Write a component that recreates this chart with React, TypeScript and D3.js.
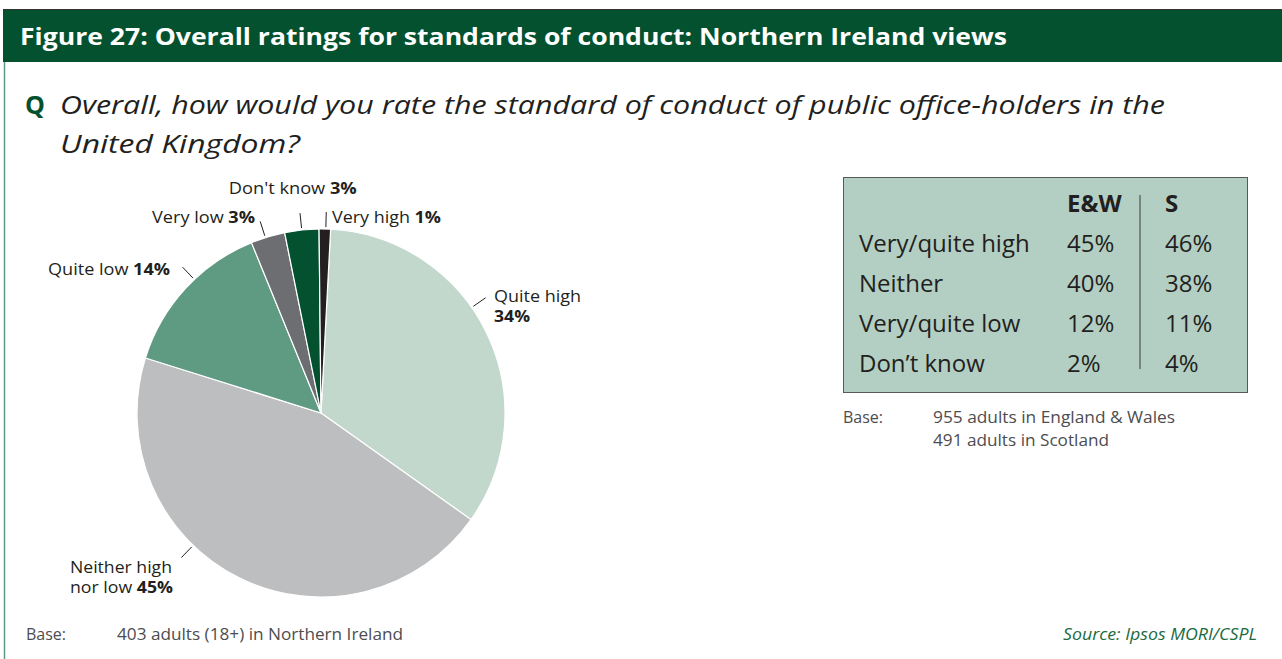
import React from "react";
import * as d3 from "d3";

const categories = ["Quite high", "Neither high nor low", "Quite low", "Very low", "Don't know", "Very high"];
const values = [34, 45, 14, 3, 3, 1];
const sliceColors = ["#C2D8CD", "#BCBEC0", "#5F9A82", "#6D6E71", "#03512F", "#231F20"];

const tableRows = ["Very/quite high", "Neither", "Very/quite low", "Don\u2019t know"];
const tableCols = ["E&W", "S"];
const ewValues = [45, 40, 12, 2];
const sValues = [46, 38, 11, 4];

// label layout: leader angle (deg, clockwise from top), text lines [plain, bold, width], anchor, offsets
const labelLayout = [
  { angle: 55, lines: [["Quite high", "", 87], ["", "34%", 36]], anchor: "start", dx: 8.4, dy: 4 },
  { angle: 224, lines: [["Neither high", "", 102], ["nor low ", "45%", 103]], anchor: "start", dx: -111.4, dy: 15.4 },
  { angle: 316.5, lines: [["Quite low ", "14%", 122]], anchor: "end", dx: -12.6, dy: 7.8 },
  { angle: 342.4, lines: [["Very low ", "3%", 103]], anchor: "end", dx: -5.2, dy: 1.6 },
  { angle: 354, lines: [["Don't know ", "3%", 128]], anchor: "middle", dx: -7.2, dy: -19 },
  { angle: 1.5, lines: [["Very high ", "1%", 109]], anchor: "start", dx: 5.7, dy: 11 },
];

const FONT = "'Open Sans', 'Noto Sans', sans-serif";
const TEXT = "#231F20";
const GREY = "#4D4D4F";

export default function App() {
  const cx = 321, cy = 413, r = 184;
  const offset = (3 * Math.PI) / 180;
  const pie = d3.pie<number>().sort(null).startAngle(offset).endAngle(offset + 2 * Math.PI);
  const arcs = pie(values);
  const arc = d3.arc<d3.PieArcDatum<number>>().innerRadius(0).outerRadius(r);

  const rowY = d3.scalePoint<string>().domain(tableRows).range([252, 372]);

  return (
    <svg width={1282} height={659} style={{ position: "absolute", left: 0, top: 0 }} fontFamily={FONT}>
      <rect x={0} y={0} width={1282} height={659} fill="#fff" />
      {/* header */}
      <rect x={3} y={9} width={1279} height={53} fill="#03512F" />
      <line x1={3} y1={9.5} x2={1282} y2={9.5} stroke="#333" strokeWidth={1} />
      <line x1={4.5} y1={62} x2={4.5} y2={659} stroke="#5F9A82" strokeWidth={1.5} />
      <text x={20} y={45} fill="#fff" fontWeight={700} fontSize={23} textLength={987} lengthAdjust="spacingAndGlyphs">
        Figure 27: Overall ratings for standards of conduct: Northern Ireland views
      </text>
      {/* question */}
      <text x={25} y={114} fill="#03512F" fontWeight={700} fontSize={25}>Q</text>
      <text x={60} y={114} fill={TEXT} fontStyle="italic" fontSize={25} textLength={1105} lengthAdjust="spacingAndGlyphs">
        Overall, how would you rate the standard of conduct of public office-holders in the
      </text>
      <text x={60} y={153} fill={TEXT} fontStyle="italic" fontSize={25} textLength={240} lengthAdjust="spacingAndGlyphs">United Kingdom?</text>

      {/* pie */}
      <g transform={`translate(${cx},${cy})`}>
        {arcs.map((a, i) => (
          <path key={categories[i]} d={arc(a) || ""} fill={sliceColors[i]} stroke="#fff" strokeWidth={1.2} />
        ))}
        {labelLayout.map((l, i) => {
          const t = (l.angle * Math.PI) / 180;
          const x1 = (r + 2) * Math.sin(t), y1 = -(r + 2) * Math.cos(t);
          const x2 = (r + 17) * Math.sin(t), y2 = -(r + 17) * Math.cos(t);
          return (
            <g key={i}>
              <line x1={x1} y1={y1} x2={x2} y2={y2} stroke={TEXT} strokeWidth={1} />
              {l.lines.map((ln, j) => (
                <text key={j} x={x2 + l.dx} y={y2 + l.dy + j * 20} textAnchor={l.anchor} fontSize={16} fill={TEXT}
                  textLength={ln[2] as number} lengthAdjust="spacingAndGlyphs">
                  {ln[0]}
                  {ln[1] && <tspan fontWeight={700}>{ln[1]}</tspan>}
                </text>
              ))}
            </g>
          );
        })}
      </g>

      {/* table */}
      <rect x={843.5} y={177.5} width={404} height={215} fill="#B3CFC3" stroke="#58595B" strokeWidth={1} />
      <line x1={1140} y1={195} x2={1140} y2={369} stroke="#3a3a3a" strokeWidth={1} />
      <text x={1067} y={212} fontSize={24} fontWeight={700} fill={TEXT}>{tableCols[0]}</text>
      <text x={1165} y={212} fontSize={24} fontWeight={700} fill={TEXT}>{tableCols[1]}</text>
      {tableRows.map((row, i) => (
        <g key={row}>
          <text x={859} y={rowY(row)} fontSize={24} fill={TEXT}>{row}</text>
          <text x={1067} y={rowY(row)} fontSize={24} fill={TEXT}>{ewValues[i]}%</text>
          <text x={1165} y={rowY(row)} fontSize={24} fill={TEXT}>{sValues[i]}%</text>
        </g>
      ))}
      <text x={843} y={423} fontSize={16} fill={GREY}>Base:</text>
      <text x={933} y={423} fontSize={16} fill={GREY} textLength={242} lengthAdjust="spacingAndGlyphs">955 adults in England &amp; Wales</text>
      <text x={933} y={446} fontSize={16} fill={GREY} textLength={176} lengthAdjust="spacingAndGlyphs">491 adults in Scotland</text>

      {/* footer */}
      <text x={26} y={640} fontSize={16} fill={GREY}>Base:</text>
      <text x={117} y={640} fontSize={16} fill={GREY} textLength={286} lengthAdjust="spacingAndGlyphs">403 adults (18+) in Northern Ireland</text>
      <text x={1257} y={640} fontSize={16} fill="#1A6B3F" fontStyle="italic" textAnchor="end" textLength={194} lengthAdjust="spacingAndGlyphs">Source: Ipsos MORI/CSPL</text>
    </svg>
  );
}
